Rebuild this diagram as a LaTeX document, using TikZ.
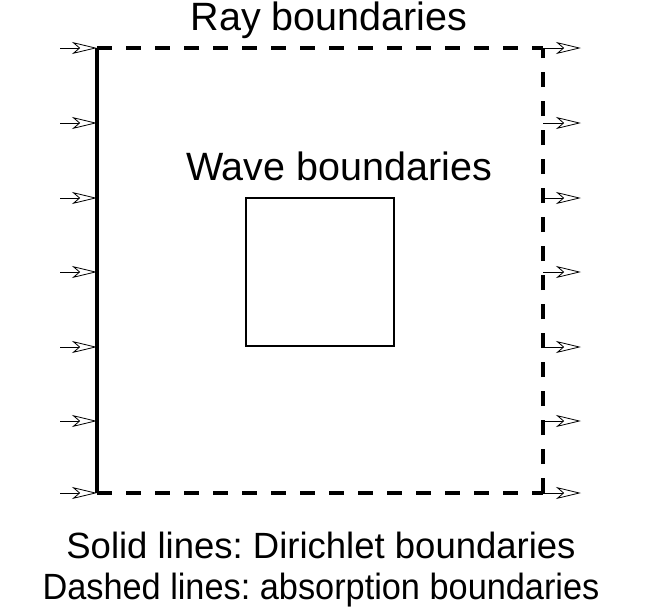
\documentclass[tikz,border=0pt]{standalone}
\usepackage{fontspec}
\setmainfont{Liberation Sans}
\usetikzlibrary{arrows.meta}
\frenchspacing
\begin{document}
\begin{tikzpicture}[x=1pt,y=-1pt,
  raydash/.style={line width=3.2pt, dash pattern=on 15pt off 14pt},
  raysolid/.style={line width=3.2pt},
  wavebox/.style={line width=2pt},
  inarrow/.style={line width=0.8pt, -{Stealth[open, length=25pt, width=12pt, inset=7pt]}},
  toplbl/.style={font=\fontsize{39.5}{46}\selectfont, inner sep=0pt},
  botlbl/.style={font=\fontsize{36.5}{42}\selectfont, inner sep=0pt}]
\useasboundingbox (0,0) rectangle (665,611);
\coordinate (tl) at (97,48);
\coordinate (tr) at (543,48);
\coordinate (bl) at (97,493);
\coordinate (br) at (543,493);
\draw[raysolid] (tl) -- (bl);
\draw[raydash] (tl) -- (tr);
\draw[raydash] (bl) -- (br);
\draw[raydash] (br) -- (tr);
\node[draw, wavebox, minimum width=148pt, minimum height=148pt, inner sep=0pt] (wave) at (320,272) {};
\foreach \i/\y in {1/48,2/123,3/198,4/272,5/347,6/421,7/493}{
  \coordinate (ls\i) at (60,\y);
  \coordinate (le\i) at (97,\y);
  \coordinate (rs\i) at (543,\y);
  \coordinate (re\i) at (581,\y);
  \draw[inarrow] (ls\i) -- (le\i);
  \draw[inarrow] (rs\i) -- (re\i);
}
\node[toplbl] (ray) at (329,20) {Ray boundaries};
\node[toplbl] (wavelbl) at (339,166) {Wave boundaries};
\node[botlbl] (solid) at (321,545) {Solid lines: Dirichlet boundaries};
\node[botlbl] (dashed) at (321,590) {\scalebox{0.94}[1]{Dashed lines: absorption boundaries}};
\end{tikzpicture}
\end{document}
